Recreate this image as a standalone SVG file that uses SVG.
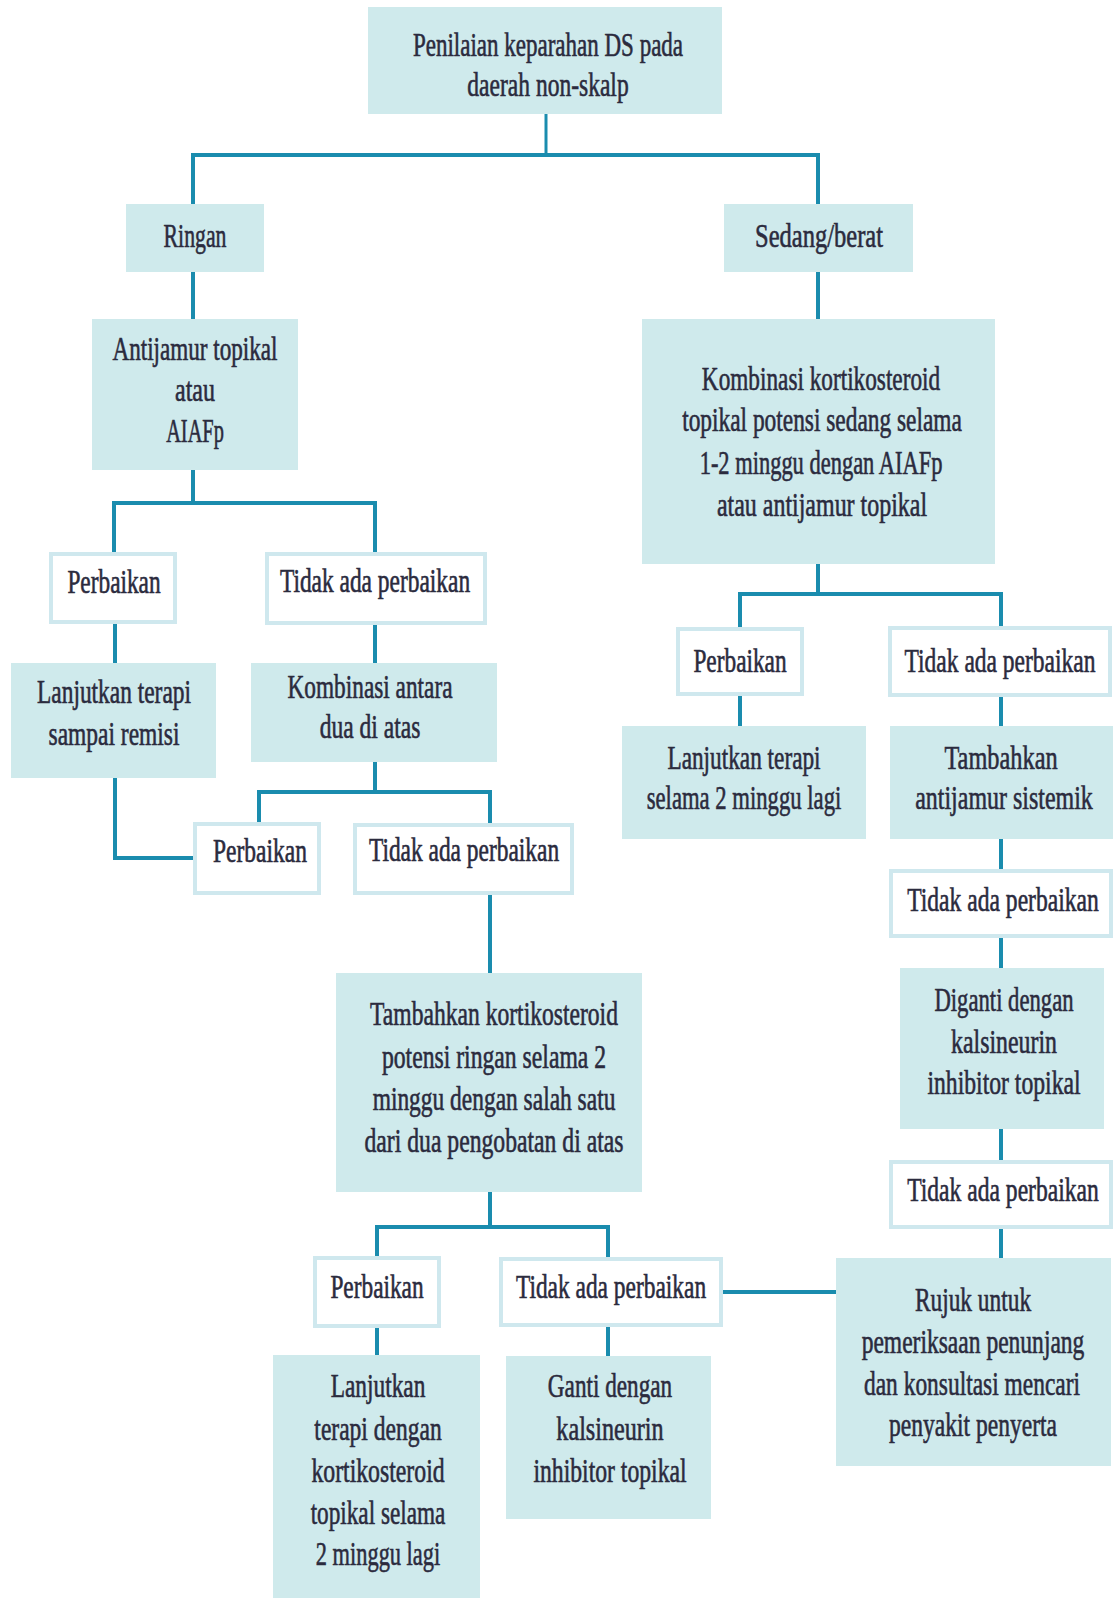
<svg xmlns="http://www.w3.org/2000/svg" width="1115" height="1598" viewBox="0 0 1115 1598">
  <style>
    .fill { fill: #cfeaec; }
    .outline { fill: #ffffff; stroke: #cfe8ee; stroke-width: 4; }
    .lbl { font-family: "Liberation Serif", "DejaVu Serif", serif; font-size: 33px; fill: #2b2b3e; stroke: #2b2b3e; stroke-width: 0.6; text-anchor: middle; }
    .wire { fill: none; stroke: #1a8cae; stroke-width: 4; stroke-linecap: butt; }
  </style>
  <rect width="1115" height="1598" fill="#ffffff"/>

  <!-- connectors -->
  <g id="connectors" class="wire">
    <path d="M546 114V155" stroke-width="3"/>
    <path d="M193 204V155H818V204"/>
    <path d="M193 272V319"/>
    <path d="M818 272V319"/>
    <path d="M193 470V503"/>
    <path d="M114 552V503H375V552"/>
    <path d="M115 624V663"/>
    <path d="M375 625V663"/>
    <path d="M375 762V792"/>
    <path d="M259 822V792H490V823"/>
    <path d="M115 778V858H193"/>
    <path d="M490 895V973"/>
    <path d="M490 1192V1227"/>
    <path d="M377 1256V1227H608V1257"/>
    <path d="M377 1328V1355"/>
    <path d="M608 1327V1356"/>
    <path d="M723 1292H836"/>
    <path d="M818 564V594"/>
    <path d="M740 627V594H1001V626"/>
    <path d="M740 696V726"/>
    <path d="M1001 697V726"/>
    <path d="M1001 839V869"/>
    <path d="M1001 938V968"/>
    <path d="M1001 1129V1160"/>
    <path d="M1001 1229V1258"/>
  </g>

  <!-- labels use a narrowed serif: each line is placed by translate, then squeezed horizontally -->
  <g id="n-penilaian">
    <rect class="fill" x="368" y="7" width="354" height="107"/>
    <text class="lbl" transform="translate(548 56) scale(0.74 1)" textLength="365" lengthAdjust="spacingAndGlyphs">Penilaian keparahan DS pada</text>
    <text class="lbl" transform="translate(548 96) scale(0.74 1)" textLength="218" lengthAdjust="spacingAndGlyphs">daerah non-skalp</text>
  </g>
  <g id="n-ringan">
    <rect class="fill" x="126" y="204" width="138" height="68"/>
    <text class="lbl" transform="translate(195 247) scale(0.74 1)" textLength="85" lengthAdjust="spacingAndGlyphs">Ringan</text>
  </g>
  <g id="n-sedang">
    <rect class="fill" x="724" y="204" width="189" height="68"/>
    <text class="lbl" transform="translate(819 247) scale(0.74 1)" textLength="173" lengthAdjust="spacingAndGlyphs">Sedang/berat</text>
  </g>
  <g id="n-antijamur">
    <rect class="fill" x="92" y="319" width="206" height="151"/>
    <text class="lbl" transform="translate(195 360) scale(0.74 1)" textLength="223" lengthAdjust="spacingAndGlyphs">Antijamur topikal</text>
    <text class="lbl" transform="translate(195 401) scale(0.74 1)" textLength="54" lengthAdjust="spacingAndGlyphs">atau</text>
    <text class="lbl" transform="translate(195 442) scale(0.74 1)" textLength="78" lengthAdjust="spacingAndGlyphs">AIAFp</text>
  </g>
  <g id="n-perbaikan-1">
    <rect class="outline" x="51" y="554" width="124" height="68"/>
    <text class="lbl" transform="translate(114 593) scale(0.74 1)" textLength="126" lengthAdjust="spacingAndGlyphs">Perbaikan</text>
  </g>
  <g id="n-tidak-1">
    <rect class="outline" x="267" y="554" width="218" height="69"/>
    <text class="lbl" transform="translate(375 592) scale(0.74 1)" textLength="257" lengthAdjust="spacingAndGlyphs">Tidak ada perbaikan</text>
  </g>
  <g id="n-lanjutkan-remisi">
    <rect class="fill" x="11" y="663" width="205" height="115"/>
    <text class="lbl" transform="translate(114 703) scale(0.74 1)" textLength="208" lengthAdjust="spacingAndGlyphs">Lanjutkan terapi</text>
    <text class="lbl" transform="translate(114 745) scale(0.74 1)" textLength="177" lengthAdjust="spacingAndGlyphs">sampai remisi</text>
  </g>
  <g id="n-kombinasi-antara">
    <rect class="fill" x="251" y="663" width="246" height="99"/>
    <text class="lbl" transform="translate(370 698) scale(0.74 1)" textLength="223" lengthAdjust="spacingAndGlyphs">Kombinasi antara</text>
    <text class="lbl" transform="translate(370 738) scale(0.74 1)" textLength="136" lengthAdjust="spacingAndGlyphs">dua di atas</text>
  </g>
  <g id="n-perbaikan-2">
    <rect class="outline" x="195" y="824" width="124" height="69"/>
    <text class="lbl" transform="translate(260 862) scale(0.74 1)" textLength="127" lengthAdjust="spacingAndGlyphs">Perbaikan</text>
  </g>
  <g id="n-tidak-2">
    <rect class="outline" x="355" y="825" width="217" height="68"/>
    <text class="lbl" transform="translate(464 861) scale(0.74 1)" textLength="257" lengthAdjust="spacingAndGlyphs">Tidak ada perbaikan</text>
  </g>
  <g id="n-tambahkan-kortiko">
    <rect class="fill" x="336" y="973" width="306" height="219"/>
    <text class="lbl" transform="translate(494 1025) scale(0.74 1)" textLength="335" lengthAdjust="spacingAndGlyphs">Tambahkan kortikosteroid</text>
    <text class="lbl" transform="translate(494 1068) scale(0.74 1)" textLength="303" lengthAdjust="spacingAndGlyphs">potensi ringan selama 2</text>
    <text class="lbl" transform="translate(494 1110) scale(0.74 1)" textLength="328" lengthAdjust="spacingAndGlyphs">minggu dengan salah satu</text>
    <text class="lbl" transform="translate(494 1152) scale(0.74 1)" textLength="350" lengthAdjust="spacingAndGlyphs">dari dua pengobatan di atas</text>
  </g>
  <g id="n-perbaikan-3">
    <rect class="outline" x="315" y="1258" width="124" height="68"/>
    <text class="lbl" transform="translate(377 1298) scale(0.74 1)" textLength="126" lengthAdjust="spacingAndGlyphs">Perbaikan</text>
  </g>
  <g id="n-tidak-3">
    <rect class="outline" x="501" y="1259" width="220" height="66"/>
    <text class="lbl" transform="translate(611 1298) scale(0.74 1)" textLength="257" lengthAdjust="spacingAndGlyphs">Tidak ada perbaikan</text>
  </g>
  <g id="n-lanjutkan-kortiko">
    <rect class="fill" x="273" y="1355" width="207" height="243"/>
    <text class="lbl" transform="translate(378 1397) scale(0.74 1)" textLength="128" lengthAdjust="spacingAndGlyphs">Lanjutkan</text>
    <text class="lbl" transform="translate(378 1440) scale(0.74 1)" textLength="172" lengthAdjust="spacingAndGlyphs">terapi dengan</text>
    <text class="lbl" transform="translate(378 1482) scale(0.74 1)" textLength="180" lengthAdjust="spacingAndGlyphs">kortikosteroid</text>
    <text class="lbl" transform="translate(378 1524) scale(0.74 1)" textLength="182" lengthAdjust="spacingAndGlyphs">topikal selama</text>
    <text class="lbl" transform="translate(378 1565) scale(0.74 1)" textLength="168" lengthAdjust="spacingAndGlyphs">2 minggu lagi</text>
  </g>
  <g id="n-ganti">
    <rect class="fill" x="506" y="1356" width="205" height="163"/>
    <text class="lbl" transform="translate(610 1397) scale(0.74 1)" textLength="168" lengthAdjust="spacingAndGlyphs">Ganti dengan</text>
    <text class="lbl" transform="translate(610 1440) scale(0.74 1)" textLength="145" lengthAdjust="spacingAndGlyphs">kalsineurin</text>
    <text class="lbl" transform="translate(610 1482) scale(0.74 1)" textLength="207" lengthAdjust="spacingAndGlyphs">inhibitor topikal</text>
  </g>

  <g id="n-kombinasi-kortiko">
    <rect class="fill" x="642" y="319" width="353" height="245"/>
    <text class="lbl" transform="translate(821 390) scale(0.74 1)" textLength="322" lengthAdjust="spacingAndGlyphs">Kombinasi kortikosteroid</text>
    <text class="lbl" transform="translate(822 431) scale(0.74 1)" textLength="378" lengthAdjust="spacingAndGlyphs">topikal potensi sedang selama</text>
    <text class="lbl" transform="translate(821 474) scale(0.74 1)" textLength="328" lengthAdjust="spacingAndGlyphs">1-2 minggu dengan AIAFp</text>
    <text class="lbl" transform="translate(822 516) scale(0.74 1)" textLength="284" lengthAdjust="spacingAndGlyphs">atau antijamur topikal</text>
  </g>
  <g id="n-perbaikan-r">
    <rect class="outline" x="678" y="629" width="124" height="65"/>
    <text class="lbl" transform="translate(740 672) scale(0.74 1)" textLength="126" lengthAdjust="spacingAndGlyphs">Perbaikan</text>
  </g>
  <g id="n-tidak-r1">
    <rect class="outline" x="890" y="628" width="220" height="67"/>
    <text class="lbl" transform="translate(1000 672) scale(0.74 1)" textLength="258" lengthAdjust="spacingAndGlyphs">Tidak ada perbaikan</text>
  </g>
  <g id="n-lanjutkan-2minggu">
    <rect class="fill" x="622" y="726" width="244" height="113"/>
    <text class="lbl" transform="translate(744 769) scale(0.74 1)" textLength="207" lengthAdjust="spacingAndGlyphs">Lanjutkan terapi</text>
    <text class="lbl" transform="translate(744 809) scale(0.74 1)" textLength="263" lengthAdjust="spacingAndGlyphs">selama 2 minggu lagi</text>
  </g>
  <g id="n-tambahkan-antijamur">
    <rect class="fill" x="890" y="726" width="223" height="113"/>
    <text class="lbl" transform="translate(1001 769) scale(0.74 1)" textLength="153" lengthAdjust="spacingAndGlyphs">Tambahkan</text>
    <text class="lbl" transform="translate(1004 809) scale(0.74 1)" textLength="240" lengthAdjust="spacingAndGlyphs">antijamur sistemik</text>
  </g>
  <g id="n-tidak-r2">
    <rect class="outline" x="891" y="871" width="220" height="65"/>
    <text class="lbl" transform="translate(1003 911) scale(0.74 1)" textLength="259" lengthAdjust="spacingAndGlyphs">Tidak ada perbaikan</text>
  </g>
  <g id="n-diganti">
    <rect class="fill" x="900" y="968" width="204" height="161"/>
    <text class="lbl" transform="translate(1004 1011) scale(0.74 1)" textLength="188" lengthAdjust="spacingAndGlyphs">Diganti dengan</text>
    <text class="lbl" transform="translate(1004 1053) scale(0.74 1)" textLength="143" lengthAdjust="spacingAndGlyphs">kalsineurin</text>
    <text class="lbl" transform="translate(1004 1094) scale(0.74 1)" textLength="207" lengthAdjust="spacingAndGlyphs">inhibitor topikal</text>
  </g>
  <g id="n-tidak-r3">
    <rect class="outline" x="891" y="1162" width="220" height="65"/>
    <text class="lbl" transform="translate(1003 1201) scale(0.74 1)" textLength="259" lengthAdjust="spacingAndGlyphs">Tidak ada perbaikan</text>
  </g>
  <g id="n-rujuk">
    <rect class="fill" x="836" y="1258" width="275" height="208"/>
    <text class="lbl" transform="translate(973 1311) scale(0.74 1)" textLength="157" lengthAdjust="spacingAndGlyphs">Rujuk untuk</text>
    <text class="lbl" transform="translate(973 1353) scale(0.74 1)" textLength="301" lengthAdjust="spacingAndGlyphs">pemeriksaan penunjang</text>
    <text class="lbl" transform="translate(972 1395) scale(0.74 1)" textLength="292" lengthAdjust="spacingAndGlyphs">dan konsultasi mencari</text>
    <text class="lbl" transform="translate(973 1436) scale(0.74 1)" textLength="227" lengthAdjust="spacingAndGlyphs">penyakit penyerta</text>
  </g>
</svg>
